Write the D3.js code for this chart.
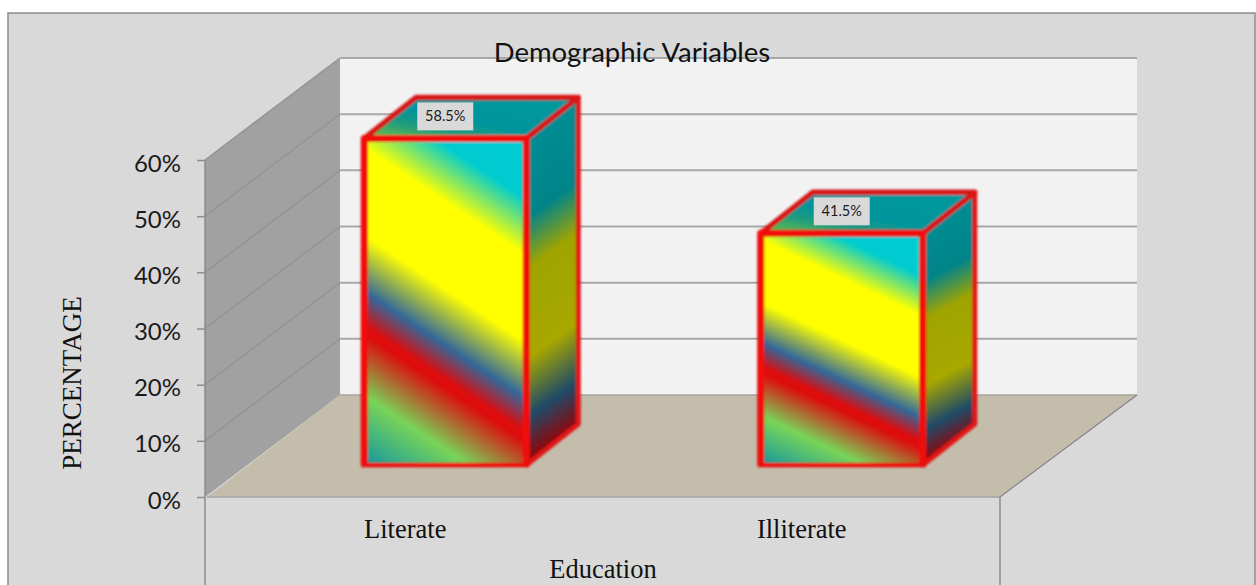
<!DOCTYPE html>
<html>
<head>
<meta charset="utf-8">
<title>Demographic Variables</title>
<script src="https://cdn.jsdelivr.net/npm/d3@7"></script>
<style>
  html, body { margin: 0; padding: 0; background: #fff; overflow: hidden; }
  svg { display: block; }
</style>
</head>
<body>
<div id="chart"></div>
<script>
// data
const categories = ["Literate", "Illiterate"];
const values = [0.585, 0.415];
const tickValues = [0, 0.1, 0.2, 0.3, 0.4, 0.5, 0.6];
const titleText = "Demographic Variables";
const xTitle = "Education";
const yTitle = "PERCENTAGE";

// gradient stops of the bar faces
const frontStops = [[0, "#00cdd2"], [0.14, "#00ccd0"], [0.27, "#ffff00"], [0.47, "#ffff00"], [0.6, "#33689a"],
  [0.68, "#e00a0a"], [0.7, "#dc0e0e"], [0.84, "#78d458"], [1, "#12959f"]];
const sideStops = [[0, "#009096"], [0.28, "#00848a"], [0.42, "#a0a400"], [0.66, "#a8a800"], [0.82, "#1e4a68"],
  [0.93, "#8a0a10"], [1, "#900808"]];
const topStops = [[0, "#70c440"], [0.28, "#1c9a80"], [0.45, "#00959c"], [1, "#009a9e"]];

const width = 1256, height = 585;

// floor and walls
const floorLeft = 207, floorRight = 1000;
const axisBottom = 497, axisTop = 160;
const wallDx = 133, wallDy = -102, wallDxRight = 137;

// bars sit a bit further back than the front edge of the floor
const barBase = 465, barScalePerAxis = 335;
const barWidth = 162, barShift = 40;
const depthX = 52, depthY = -41;

const svg = d3.select("#chart").append("svg")
  .attr("width", width)
  .attr("height", height);

const defs = svg.append("defs");

function addGradient(id, stops, x1, y1, x2, y2) {
  const g = defs.append("linearGradient")
    .attr("id", id)
    .attr("x1", x1).attr("y1", y1)
    .attr("x2", x2).attr("y2", y2);
  stops.forEach(s => g.append("stop").attr("offset", s[0]).attr("stop-color", s[1]));
}
addGradient("frontFill", frontStops, 1, 0, 0.604, 1.2);
addGradient("sideFill", sideStops, 0.45, 0, 0.55, 1);
addGradient("topFill", topStops, 0, 1, 1, 0);

defs.append("filter").attr("id", "soft")
  .attr("x", "-5%").attr("y", "-5%").attr("width", "110%").attr("height", "110%")
  .append("feGaussianBlur").attr("stdDeviation", 0.8);

// chart area
svg.append("rect")
  .attr("x", 8).attr("y", 13)
  .attr("width", 1247).attr("height", 600)
  .attr("fill", "#d9d9d9")
  .attr("stroke", "#8c8c8c")
  .attr("stroke-width", 1.5);

const y = d3.scaleLinear().domain([0, 0.6]).range([axisBottom, axisTop]);
const barY = d3.scaleLinear().domain([0, 0.6]).range([barBase, barBase - barScalePerAxis]);
const x = d3.scaleBand().domain(categories).range([floorLeft, floorRight])
  .paddingInner(1 - barWidth / 396.5).paddingOuter((1 - barWidth / 396.5) / 2);
const xLabel = d3.scaleBand().domain(categories).range([floorLeft, floorRight]);

const line = d3.line();

// back wall
svg.append("rect")
  .attr("x", floorLeft + wallDx).attr("y", y(0.6) + wallDy)
  .attr("width", floorRight + wallDxRight - floorLeft - wallDx)
  .attr("height", y(0) - y(0.6))
  .attr("fill", "#f2f2f2");

// left wall
svg.append("path")
  .attr("d", line([[floorLeft - 2, y(0)], [floorLeft + wallDx, y(0) + wallDy], [floorLeft + wallDx, y(0.6) + wallDy], [floorLeft - 2, y(0.6)]]) + "Z")
  .attr("fill", "#a1a1a1");

// gridlines on both walls
svg.append("g").selectAll("path")
  .data(tickValues.slice(1))
  .join("path")
  .attr("fill", "none")
  .attr("stroke", "#949494")
  .attr("stroke-width", 1.5)
  .attr("d", d => line([[floorLeft - 2, y(d)], [floorLeft + wallDx, y(d) + wallDy]]));

svg.append("g").selectAll("line")
  .data(tickValues.slice(1))
  .join("line")
  .attr("x1", floorLeft + wallDx)
  .attr("x2", floorRight + wallDxRight)
  .attr("y1", d => y(d) + wallDy)
  .attr("y2", d => y(d) + wallDy)
  .attr("stroke", "#a8a8a8")
  .attr("stroke-width", 2);

// floor
svg.append("path")
  .attr("d", line([[floorLeft, y(0)], [floorLeft + wallDx, y(0) + wallDy], [floorRight + wallDxRight, y(0) + wallDy], [floorRight, y(0)]]) + "Z")
  .attr("fill", "#c4bdab");
svg.append("path")
  .attr("fill", "none")
  .attr("stroke", "#a9a59b")
  .attr("stroke-width", 1.5)
  .attr("d", line([[floorLeft + wallDx, y(0) + wallDy], [floorRight + wallDxRight, y(0) + wallDy]]));
svg.append("path")
  .attr("fill", "none")
  .attr("stroke", "#a3a3a3")
  .attr("stroke-width", 1.5)
  .attr("d", line([[floorLeft, y(0)], [floorRight, y(0)]]));
svg.append("path")
  .attr("fill", "none")
  .attr("stroke", "#858585")
  .attr("stroke-width", 1.2)
  .attr("d", line([[floorRight, y(0)], [floorRight + wallDxRight, y(0) + wallDy]]));

// y axis from d3, the long vertical runs down past the floor
const yAxis = svg.append("g")
  .attr("transform", "translate(" + (floorLeft - 2) + ",0)")
  .call(d3.axisLeft(y).tickValues(tickValues).tickFormat(d3.format(".0%")).tickSize(8).tickPadding(16));
yAxis.select(".domain").remove();
yAxis.selectAll("line").attr("stroke", "#8c8c8c").attr("stroke-width", 1.5);
yAxis.selectAll("text")
  .attr("fill", "#1a1a1a")
  .attr("dy", "0.46em")
  .style("font-family", "Lato")
  .style("font-size", "24px");

svg.append("line")
  .attr("x1", floorLeft - 2).attr("x2", floorLeft - 2)
  .attr("y1", y(0.6)).attr("y2", height)
  .attr("stroke", "#8c8c8c").attr("stroke-width", 1.5);
svg.append("line")
  .attr("x1", floorRight).attr("x2", floorRight)
  .attr("y1", y(0)).attr("y2", height)
  .attr("stroke", "#8c8c8c").attr("stroke-width", 1.5);

// bars
const bars = svg.append("g").attr("filter", "url(#soft)")
  .selectAll("g")
  .data(categories.map((c, i) => ({ cat: c, value: values[i] })))
  .join("g");

bars.each(function(d) {
  const g = d3.select(this);
  const x0 = x(d.cat) + barShift, x1 = x0 + barWidth;
  const yTop = barY(d.value);

  // right side
  g.append("path")
    .attr("d", line([[x1, barBase], [x1 + depthX, barBase + depthY], [x1 + depthX, yTop + depthY], [x1, yTop]]) + "Z")
    .attr("fill", "url(#sideFill)")
    .attr("stroke", "#e01414")
    .attr("stroke-width", 5)
    .attr("stroke-linejoin", "round");

  // top
  g.append("path")
    .attr("d", line([[x0, yTop], [x0 + depthX, yTop + depthY], [x1 + depthX, yTop + depthY], [x1, yTop]]) + "Z")
    .attr("fill", "url(#topFill)")
    .attr("stroke", "#d81818")
    .attr("stroke-width", 5.5)
    .attr("stroke-linejoin", "round");

  // front
  g.append("rect")
    .attr("x", x0).attr("y", yTop)
    .attr("width", barWidth).attr("height", barBase - yTop)
    .attr("fill", "url(#frontFill)");
  g.append("path")
    .attr("fill", "none")
    .attr("stroke", "#f20808")
    .attr("stroke-width", 7)
    .attr("stroke-linejoin", "round")
    .attr("d", line([[x0, barBase], [x0, yTop], [x1, yTop], [x1, barBase]]));
  g.append("path")
    .attr("fill", "none")
    .attr("stroke", "#ec1010")
    .attr("stroke-width", 4.5)
    .attr("d", line([[x0 - 3, barBase], [x1 + 3, barBase]]));
});

// data labels
const labels = svg.append("g").selectAll("g")
  .data(categories.map((c, i) => ({ cat: c, value: values[i] })))
  .join("g")
  .attr("transform", d => "translate(" + (x(d.cat) + barShift + 53) + "," + (barY(d.value) - 36) + ")");
labels.append("rect")
  .attr("width", 56).attr("height", 28)
  .attr("fill", "#d9d9d9");
labels.append("text")
  .attr("x", 28).attr("y", 19)
  .attr("text-anchor", "middle")
  .attr("fill", "#1a1a1a")
  .style("font-family", "Lato")
  .style("font-size", "14.5px")
  .text(d => d3.format(".1%")(d.value));

// category labels
svg.append("g").selectAll("text")
  .data(categories)
  .join("text")
  .attr("x", d => xLabel(d) + xLabel.bandwidth() / 2)
  .attr("y", 538)
  .attr("text-anchor", "middle")
  .attr("fill", "#111")
  .style("font-family", "Liberation Serif")
  .style("font-size", "26.5px")
  .text(d => d);

svg.append("text")
  .attr("x", 603).attr("y", 578)
  .attr("text-anchor", "middle")
  .attr("fill", "#111")
  .style("font-family", "Liberation Serif")
  .style("font-size", "26.5px")
  .text(xTitle);

svg.append("text")
  .attr("transform", "translate(81,383) rotate(-90)")
  .attr("text-anchor", "middle")
  .attr("fill", "#111")
  .style("font-family", "Liberation Serif")
  .style("font-size", "27px")
  .text(yTitle);

svg.append("text")
  .attr("x", 632).attr("y", 62)
  .attr("text-anchor", "middle")
  .attr("fill", "#111")
  .style("font-family", "Lato")
  .style("font-size", "27.5px")
  .text(titleText);
</script>
</body>
</html>
